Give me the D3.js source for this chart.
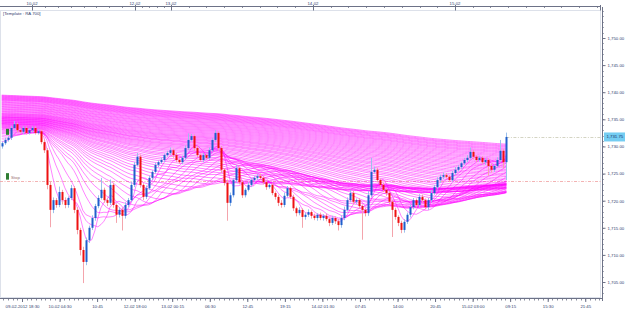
<!DOCTYPE html>
<html><head><meta charset="utf-8">
<script src="https://cdn.jsdelivr.net/npm/d3@7"></script>
<style>body{margin:0;background:#fff}svg{display:block}text{font-family:"Liberation Sans",Arial,sans-serif}</style>
</head><body><svg id="c" width="625" height="310"></svg>
<script>
// ---- data ----
const closes = [
1730.6,1731.2,1731.6,1733.4,1734.1,1733.0,1732.7,1733.4,1732.5,1733.0,
1733.4,1732.5,1732.8,1730.8,1729.3,1722.9,1718.3,1720.1,1719.2,1721.6,
1720.1,1719.2,1720.5,1722.3,1718.3,1714.6,1710.9,1708.7,1712.7,1715.0,
1716.8,1719.0,1720.5,1722.0,1720.1,1719.6,1722.9,1719.2,1717.4,1718.3,
1717.2,1719.2,1720.1,1722.9,1726.6,1728.1,1722.9,1720.7,1722.3,1724.2,
1725.3,1726.6,1727.1,1727.5,1728.4,1728.8,1729.3,1728.4,1727.5,1727.1,
1727.9,1729.7,1731.2,1731.9,1729.7,1728.4,1727.5,1728.4,1727.9,1729.3,
1731.2,1732.5,1729.7,1725.7,1723.3,1719.6,1721.0,1723.8,1726.0,1723.4,
1721.0,1722.0,1722.9,1723.8,1724.2,1724.5,1724.2,1723.4,1722.5,1722.9,
1721.4,1720.7,1719.6,1719.2,1720.9,1722.3,1720.7,1718.6,1717.7,1718.3,
1717.0,1717.4,1717.9,1717.2,1716.8,1717.4,1716.8,1717.2,1716.6,1715.9,
1716.8,1716.2,1715.5,1716.8,1718.3,1720.1,1721.4,1719.8,1720.1,1719.0,
1718.3,1717.7,1721.0,1725.3,1725.7,1723.8,1722.9,1722.0,1721.4,1719.8,
1718.3,1717.0,1715.9,1714.6,1716.1,1717.4,1718.8,1720.1,1719.2,1720.7,
1720.1,1718.8,1720.1,1721.4,1722.5,1723.8,1724.4,1724.7,1724.4,1723.8,
1725.1,1725.7,1726.2,1726.9,1727.5,1727.9,1729.0,1728.1,1727.5,1727.9,
1727.1,1727.5,1726.4,1725.7,1726.4,1727.5,1729.2,1727.1,1731.75];
const firstOpen = 1730.0;
const wickUp = [
0.3,0.4,0.3,0.4,0.6,0.3,0.4,0.3,0.3,0.4, 0.3,0.3,0.4,0.3,0.5,0.4,0.6,0.5,0.4,1.0,
0.4,0.5,0.3,0.6,0.4,0.5,0.4,0.6,0.5,0.4, 0.5,0.4,0.5,2.2,0.4,0.3,1.0,0.4,0.3,0.5,
0.4,0.5,0.4,0.6,0.5,0.7,0.4,0.3,0.5,0.4, 0.3,0.4,0.3,0.4,0.3,0.4,0.5,0.3,0.4,0.3,
0.4,0.5,1.2,0.4,0.3,0.4,0.3,0.4,0.3,0.5, 0.4,0.5,0.3,0.4,0.3,0.6,0.5,0.4,0.6,0.3,
0.4,0.3,0.5,0.4,0.3,0.4,0.5,0.3,0.4,0.3, 0.4,0.3,0.4,0.5,0.6,0.4,0.3,0.4,0.3,0.5,
0.3,0.4,0.5,0.3,0.4,0.3,0.4,0.3,0.4,0.3, 0.4,0.3,0.4,0.5,0.6,0.5,0.6,0.4,0.3,0.4,
0.3,0.4,0.8,2.6,0.6,0.4,0.3,0.4,0.3,0.4, 0.3,0.4,0.3,0.4,0.5,0.4,0.5,0.4,0.3,0.5,
0.4,0.3,0.4,0.5,0.4,0.5,0.4,0.5,0.4,0.3, 0.4,0.5,0.4,0.3,0.4,0.5,0.8,0.4,0.3,0.4,
0.3,0.4,0.3,0.4,0.3,0.5,2.0,0.4,0.8];
const wickDn = [
0.4,0.3,0.3,0.4,0.3,0.4,0.3,0.4,0.3,0.3, 0.4,0.3,0.3,0.4,0.5,0.8,3.2,0.6,0.5,0.4,
0.8,0.6,0.5,0.4,0.6,0.8,1.0,3.9,0.6,0.5, 0.4,0.5,0.4,0.3,0.5,0.6,0.4,0.5,1.5,0.5,
2.7,0.5,0.4,0.3,0.4,0.3,0.5,0.6,0.4,0.3, 0.4,0.3,0.4,0.3,0.4,0.3,0.4,0.5,0.4,0.3,
0.4,0.3,0.4,0.3,0.5,0.4,0.3,0.4,0.3,0.4, 0.3,0.4,0.5,0.6,0.5,3.3,0.6,0.4,0.5,0.4,
0.5,0.4,0.3,0.4,0.3,0.4,0.3,0.4,0.5,0.3, 0.4,0.5,0.6,0.5,0.4,0.3,0.4,0.5,0.6,0.4,
2.0,0.5,0.4,0.5,0.4,0.5,0.4,0.5,0.4,0.6, 0.4,0.5,1.0,0.5,0.4,0.3,0.4,0.5,0.4,0.5,
5.5,0.6,0.5,0.4,0.3,0.4,0.5,0.4,0.5,0.6, 5.0,0.5,0.6,0.6,0.5,0.4,0.5,0.4,0.5,0.4,
0.5,0.4,0.5,0.4,0.3,0.4,0.5,0.4,0.3,0.4, 0.3,0.4,0.3,0.4,0.3,0.4,0.3,0.5,0.4,0.3,
0.4,0.5,1.8,0.5,0.4,0.3,0.4,1.1,3.3];
// moving-average ribbon: SMA periods (bars) and each line's level at the left edge
const maPeriods = [5,9,13,18,22,26,31,35,39,44,48,52,57,61,65,70,74,78,83,87,
91,96,100,104,109,113,117,122,126,130,135,139,143,148,152,156,161,165,169,174,
178,182,187,191,195,200,204,208,213,217,221,226,230,234,239,243,247,252,256,260,
265,269,273,278,282,286,291,295,299,304];
const maSeeds = [1731.0,1731.5,1731.9,1732.2,1732.5,1732.7,1732.9,1733.1,1733.2,1733.4,
1733.5,1733.6,1733.7,1733.8,1733.9,1734.0,1734.1,1734.2,1734.25,1734.3,
1734.4,1734.5,1734.55,1734.6,1734.7,1734.8,1734.85,1734.9,1735.0,1735.1,
1735.15,1735.2,1735.3,1735.4,1735.45,1735.5,1735.6,1735.7,1735.8,1735.9,
1736.0,1736.1,1736.2,1736.35,1736.5,1736.6,1736.75,1736.9,1737.0,1737.15,
1737.3,1737.4,1737.55,1737.7,1737.8,1737.95,1738.1,1738.2,1738.35,1738.5,
1738.6,1738.7,1738.8,1738.9,1739.0,1739.1,1739.2,1739.3,1739.4,1739.5];
const bottomLabels = ["09-02-2012 18:30","10-02 04:30","10:45","12-02 18:00","13-02 00:15","06:30","12:45","19:15",
"14-02 01:30","07:45","14:00","20:45","15-02 03:00","09:15","15:30","21:45"];
const topLabels = ["10-02","12-02","13-02","14-02","15-02"];
const topLabelSlots = [6.7, 75.2, 99.2, 193.7, 288.3];
const yTicks = [1705,1710,1715,1720,1725,1730,1735,1740,1745,1750];
const lastPrice = 1731.75;
const stopPrice = 1723.6;
const entryPrice = 1732.7;
const templateText = "[Template : RA 700]";

// ---- layout ----
const svg = d3.select("#c");
const plot = {l:0, r:602, t:10, b:298};
const slotsPerLabel = 25, barSlots = 2, firstSlot = -13.5;
const x = d3.scaleLinear().domain([0, slotsPerLabel]).range([22, 59.55]);
const y = d3.scaleLinear().domain([1705, 1750]).range([282, 38]);
const slotOf = i => firstSlot + barSlots * i;
const xDomMin = x.invert(plot.l), xDomMax = x.invert(plot.r);

const axisCol = "#6d7287", txtCol = "#2f3c6e", fs = 4.3;

svg.append("defs").append("clipPath").attr("id","clip")
  .append("rect").attr("x",plot.l).attr("y",plot.t).attr("width",plot.r-plot.l).attr("height",plot.b-plot.t);

// frame
svg.append("rect").attr("x",plot.l+0.5).attr("y",plot.t+0.5).attr("width",plot.r-plot.l-2).attr("height",plot.b-plot.t-1)
  .attr("fill","none").attr("stroke","#dde1ea").attr("stroke-width",1);

const g = svg.append("g").attr("clip-path","url(#clip)");

// price lines
g.append("line").attr("x1",plot.l).attr("x2",plot.r).attr("y1",Math.round(y(stopPrice))+0.5).attr("y2",Math.round(y(stopPrice))+0.5)
  .attr("stroke","#f0a0a0").attr("stroke-width",0.8).attr("stroke-dasharray","3,1.5,1,1.5");
g.append("line").attr("x1",x(slotOf(closes.length-1))).attr("x2",plot.r).attr("y1",Math.round(y(lastPrice))+0.5).attr("y2",Math.round(y(lastPrice))+0.5)
  .attr("stroke","#c9c9b4").attr("stroke-width",0.8).attr("stroke-dasharray","3,1.5,1,1.5");

// candles data
const data = closes.map((c,i)=>{
  const o = i===0 ? firstOpen : closes[i-1];
  return {i, o, c, h: Math.max(o,c)+wickUp[i], l: Math.min(o,c)-wickDn[i]};
});

// MA ribbon (simple moving averages; bars before the chart start held at the line's left-edge level)
const cum = [0]; closes.forEach(c=>cum.push(cum[cum.length-1]+c));
const line = d3.line().x(d=>x(slotOf(d.i))).y(d=>y(d.v));
const ribbon = g.append("g");
maPeriods.forEach((p,k)=>{
  const s = maSeeds[k];
  const pts = closes.map((c,i)=>{
    const from = Math.max(0, i-p+1);
    const sum = cum[i+1]-cum[from] + s*Math.max(0, p-i-1);
    return {i, v: sum/p};
  });
  ribbon.append("path").attr("d", line(pts)).attr("fill","none")
    .attr("stroke","#ff00ff").attr("stroke-width",0.65).attr("stroke-opacity",0.75);
});

// candles
const cg = g.append("g");
data.forEach(d=>{
  const up = d.c >= d.o;
  const cx = Math.round(x(slotOf(d.i)));
  cg.append("line").attr("x1",cx+0.5).attr("x2",cx+0.5).attr("y1",y(d.h)).attr("y2",y(d.l))
    .attr("stroke", up ? "#9cc0ec" : "#f4a4ac").attr("stroke-width",1);
  const y0 = y(Math.max(d.o,d.c)), y1 = y(Math.min(d.o,d.c));
  cg.append("rect").attr("x",cx-0.5).attr("y",y0).attr("width",2).attr("height",Math.max(1,y1-y0))
    .attr("fill", up ? "#1f5fcc" : "#ee1111");
});

// markers
g.append("rect").attr("x",6).attr("y",y(entryPrice)-3).attr("width",3).attr("height",6).attr("fill","#2f7d32");
g.append("rect").attr("x",6).attr("y",y(stopPrice)-8).attr("width",3).attr("height",6.5).attr("fill","#2f7d32");
g.append("text").attr("x",11).attr("y",y(stopPrice)-2.5).attr("font-size",fs).attr("fill","#9a7070").text("Stop");

// template text
svg.append("text").attr("x",3).attr("y",14.5).attr("font-size",fs).attr("fill",txtCol).text(templateText);

// bottom axis
const bTicks = bottomLabels.map((_,k)=>k*slotsPerLabel);
const bMinor = d3.range(Math.ceil(xDomMin/(slotsPerLabel/8))*(slotsPerLabel/8), xDomMax, slotsPerLabel/8);
const gb = svg.append("g").attr("transform",`translate(0,${plot.b})`);
gb.append("line").attr("x1",plot.l).attr("x2",plot.r).attr("y1",0.5).attr("y2",0.5).attr("stroke",axisCol);
gb.selectAll(".mi").data(bMinor).join("line").attr("x1",d=>Math.round(x(d))+0.5).attr("x2",d=>Math.round(x(d))+0.5)
  .attr("y1",0.5).attr("y2",2.5).attr("stroke",axisCol).attr("stroke-width",0.8);
const bAxis = d3.axisBottom(x).tickValues(bTicks).tickFormat((d,k)=>bottomLabels[k]).tickSize(4).tickPadding(2.5);
gb.call(bAxis);
gb.select(".domain").remove();
gb.selectAll(".tick line").attr("stroke",axisCol);
gb.selectAll(".tick text").attr("font-size",fs).attr("fill",txtCol).attr("font-family","Liberation Sans, Arial, sans-serif");

// top axis
const gt = svg.append("g").attr("transform","translate(0,6)");
gt.append("line").attr("x1",plot.l).attr("x2",600).attr("y1",0.5).attr("y2",0.5).attr("stroke",axisCol);
const tMinor = [];
const bounds = [topLabelSlots[0]-11.6, ...topLabelSlots, xDomMax];
for (let k=0;k<bounds.length-1;k++){
  const a=bounds[k], b=bounds[k+1], gap=b-a;
  if (k===bounds.length-2){ for (let v=a+11.8; v<b; v+=11.8) tMinor.push(v); continue; }
  const n = gap>60 ? 8 : (gap>20 ? 5 : 1);
  for (let j=1;j<n;j++) tMinor.push(a+j*gap/n);
}
gt.selectAll(".mi").data(tMinor).join("line").attr("x1",d=>Math.round(x(d))+0.5).attr("x2",d=>Math.round(x(d))+0.5)
  .attr("y1",0.5).attr("y2",2).attr("stroke",axisCol).attr("stroke-width",0.8);
gt.selectAll(".ma").data(topLabelSlots).join("line").attr("x1",d=>Math.round(x(d))+0.5).attr("x2",d=>Math.round(x(d))+0.5)
  .attr("y1",-1).attr("y2",4.5).attr("stroke",axisCol);
gt.selectAll("text").data(topLabelSlots).join("text").attr("x",d=>x(d)).attr("y",-1.5).attr("text-anchor","middle")
  .attr("font-size",fs).attr("fill",txtCol).text((d,k)=>topLabels[k]);
gt.append("line").attr("x1",600.5).attr("x2",600.5).attr("y1",-1).attr("y2",4.5).attr("stroke",axisCol);

// right axis
const gr = svg.append("g").attr("transform",`translate(${plot.r},0)`);
gr.append("line").attr("x1",0.5).attr("x2",0.5).attr("y1",plot.t-3).attr("y2",plot.b+3).attr("stroke",axisCol);
const yMinor = d3.range(1703, 1757, 1).filter(v=>y(v)>plot.t && y(v)<plot.b);
gr.selectAll(".mi").data(yMinor).join("line").attr("x1",0.5).attr("x2",2).attr("y1",d=>Math.round(y(d))+0.5).attr("y2",d=>Math.round(y(d))+0.5)
  .attr("stroke",axisCol).attr("stroke-width",0.6);
const rAxis = d3.axisRight(y).tickValues(yTicks).tickFormat(d3.format(",.2f")).tickSize(3.5).tickPadding(2);
const gra = gr.append("g").call(rAxis);
gra.select(".domain").remove();
gra.selectAll(".tick line").attr("stroke",axisCol);
gra.selectAll(".tick text").attr("font-size",fs).attr("fill",txtCol).attr("font-family","Liberation Sans, Arial, sans-serif");

// last price tag
const ly = y(lastPrice);
gr.append("rect").attr("x",2).attr("y",ly-4.5).attr("width",21).attr("height",9).attr("fill","#74cdf2");
gr.append("text").attr("x",4.5).attr("y",ly+1.5).attr("font-size",fs).attr("fill","#16306a").text(d3.format(",.2f")(lastPrice));
</script></body></html>
